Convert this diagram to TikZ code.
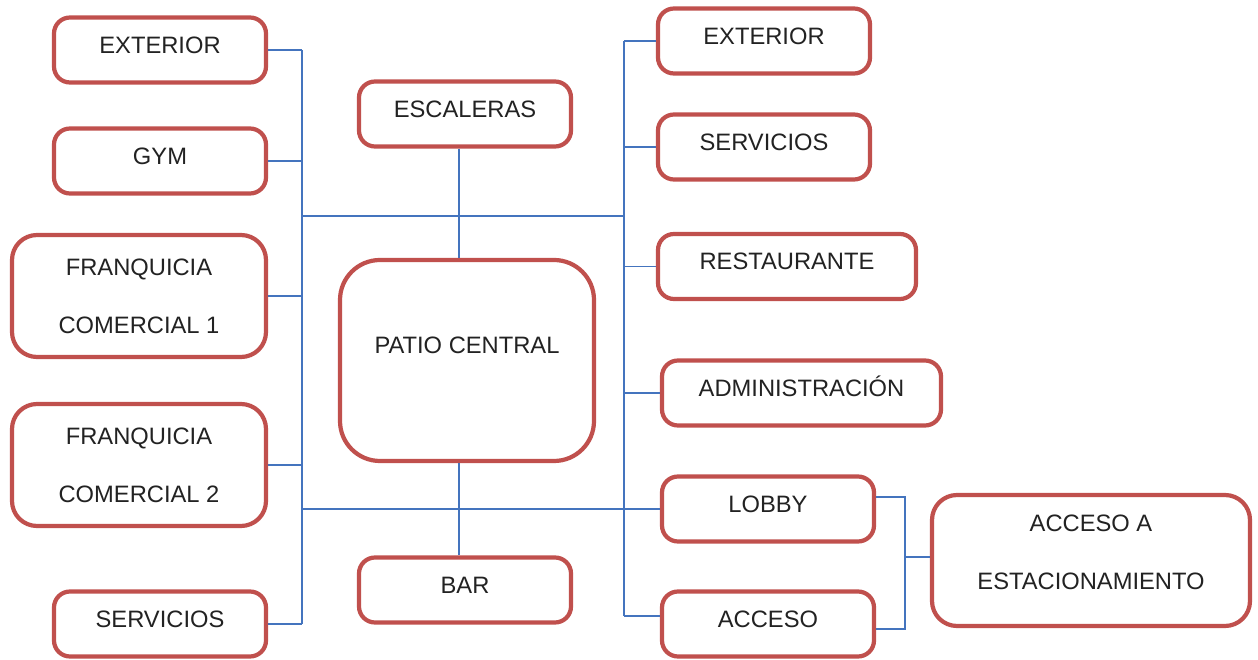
\documentclass[tikz,border=0pt]{standalone}
\usepackage{fontspec}
\setmainfont{Liberation Sans}
\usetikzlibrary{calc}
\definecolor{boxred}{RGB}{192,80,77}
\definecolor{linkblue}{RGB}{68,116,190}
\definecolor{inkgray}{RGB}{34,34,34}

\tikzset{
  box/.style={draw=boxred, line width=2.4pt, rounded corners=0.32cm, fill=white,
    text=inkgray, inner sep=0pt, minimum width=4.24cm, minimum height=1.3cm,
    font=\fontsize{13.5}{16}\selectfont, text height=0.45cm, text depth=0.31cm},
  twobox/.style={draw=boxred, line width=2.4pt, rounded corners=0.5cm, fill=white,
    text=inkgray, inner sep=0pt, align=center, font=\fontsize{13.5}{33}\selectfont},
  link/.style={draw=linkblue, line width=1.1pt}
}

\begin{document}
\begin{tikzpicture}
\useasboundingbox (0,0) rectangle (25.16,-13.2);

          \node [box] at (3.2,-1.0) (extL) {EXTERIOR};
          \node [box] at (3.2,-3.22) (gym) {GYM};
          \node [twobox, minimum width=5.08cm, minimum height=2.44cm] at (2.78,-5.92) (franA) {FRANQUICIA\\COMERCIAL 1};
          \node [twobox, minimum width=5.08cm, minimum height=2.44cm] at (2.78,-9.30) (franB) {FRANQUICIA\\COMERCIAL 2};
          \node [box] at (3.2,-12.48) (servL) {SERVICIOS};
%
          \node [box] at (9.3,-2.28) (escaleras) {ESCALERAS};
          \node [box, rounded corners=0.8cm, minimum width=5.08cm, minimum height=4.02cm,
                 text height=0.4cm, text depth=0.66cm] at (9.34,-7.21) (patio) {PATIO CENTRAL};
          \node [box] at (9.3,-11.8) (bar) {BAR};
%
          \node [box] at (15.28,-0.82) (extR) {EXTERIOR};
          \node [box] at (15.28,-2.94) (servR) {SERVICIOS};
          \node [box, minimum width=5.16cm] at (15.74,-5.33) (rest) {RESTAURANTE};
          \node [box, minimum width=5.58cm] at (16.03,-7.86) (admin) {ADMINISTRACIÓN};
          \node [box] at (15.36,-10.18) (lobby) {LOBBY};
          \node [box] at (15.36,-12.48) (acceso) {ACCESO};
          \node [twobox, minimum width=6.36cm, minimum height=2.62cm, text depth=0.32cm] at (21.82,-11.21) (est) {ACCESO A\\ESTACIONAMIENTO};
%
\coordinate (busL) at (6.04,0);
\coordinate (busR) at (12.48,0);
\coordinate (spine) at (9.18,0);
\coordinate (brk) at (18.1,-11.14);
%
% left bus
\foreach \n in {extL,gym,franA,franB,servL}
  \draw[link] (\n.east) -- (\n.east -| busL);
\draw[link] (extL.east -| busL) -- (servL.east -| busL);
% right bus
\foreach \n in {extR,servR,rest,admin}
  \draw[link] (\n.west) -- (\n.west -| busR);
\draw[link] ([yshift=0.16cm]acceso.west) -- ([yshift=0.16cm]acceso.west -| busR);
\draw[link] (extR.west -| busR) -- ([yshift=0.16cm]acceso.west -| busR);
% cross links
\draw[link] (busL |- 0,-4.32) -- (busR |- 0,-4.32);
\draw[link] (lobby.west -| busL) -- (lobby.west);
\draw[link] (escaleras.south -| spine) -- (patio.north -| spine);
\draw[link] (patio.south -| spine) -- (bar.north -| spine);
% parking bracket
\draw[link] ([yshift=0.24cm]lobby.east) -| (brk) |- ([yshift=-0.1cm]acceso.east);
\draw[link] (brk) -- (brk -| est.west);

\end{tikzpicture}
\end{document}
